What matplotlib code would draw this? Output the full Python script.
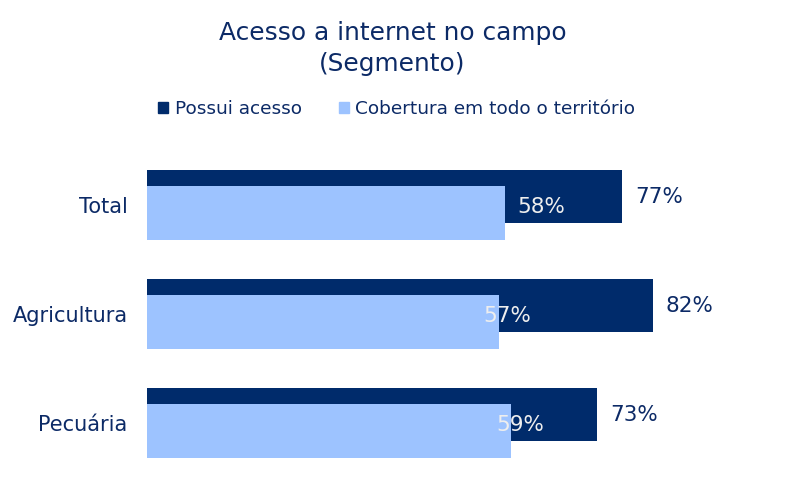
import matplotlib.pyplot as plt
from matplotlib.patches import Patch

# dados do gráfico
segmentos = ['Total', 'Agricultura', 'Pecuária']
possui_acesso = [77, 82, 73]
cobertura = [58, 57, 59]
series = ['Possui acesso', 'Cobertura em todo o território']

azul_escuro = '#002B6B'
azul_claro = '#9DC3FF'
texto = '#0C2A66'

fig = plt.figure(figsize=(7.85, 5), dpi=100)
ax = fig.add_axes([0.1873, 0.0455, 0.786, 0.654])

y = list(range(len(segmentos)))
desloc = 0.076
ax.barh([v - desloc for v in y], possui_acesso, height=0.487, color=azul_escuro, zorder=1)
ax.barh([v + desloc for v in y], cobertura, height=0.495, color=azul_claro, zorder=2)

# rótulos de valor
for i, v in enumerate(possui_acesso):
    ax.text(v + 2.1, i - 0.07, f'{v}%', color=texto, fontsize=15.5, va='center', ha='left')
pos_rotulo = [60.0, 54.5, 56.6]
for i, v in enumerate(cobertura):
    ax.text(pos_rotulo[i], i + 0.02, f'{v}%', color='#EEEEEE', fontsize=15.5, va='center', ha='left', zorder=3)

ax.set_xlim(0, 100)
ax.set_ylim(2.5, -0.5)
ax.set_yticks(y)
ax.set_yticklabels(segmentos, fontsize=15, color=texto)
ax.tick_params(axis='y', length=0, pad=14)
ax.set_xticks([])
for s in ax.spines.values():
    s.set_visible(False)

fig.text(0.5, 0.903, 'Acesso a internet no campo\n(Segmento)', ha='center', va='center',
         fontsize=17.9, color=texto, linespacing=1.35)

handles = [Patch(color=azul_escuro), Patch(color=azul_claro)]
fig.legend(handles, series, loc='center', bbox_to_anchor=(0.5055, 0.782), ncol=2, frameon=False,
           fontsize=13.3, labelcolor=texto, handlelength=0.55, handleheight=0.55,
           handletextpad=0.35, columnspacing=2.0)

plt.savefig('out.png', dpi=100)
